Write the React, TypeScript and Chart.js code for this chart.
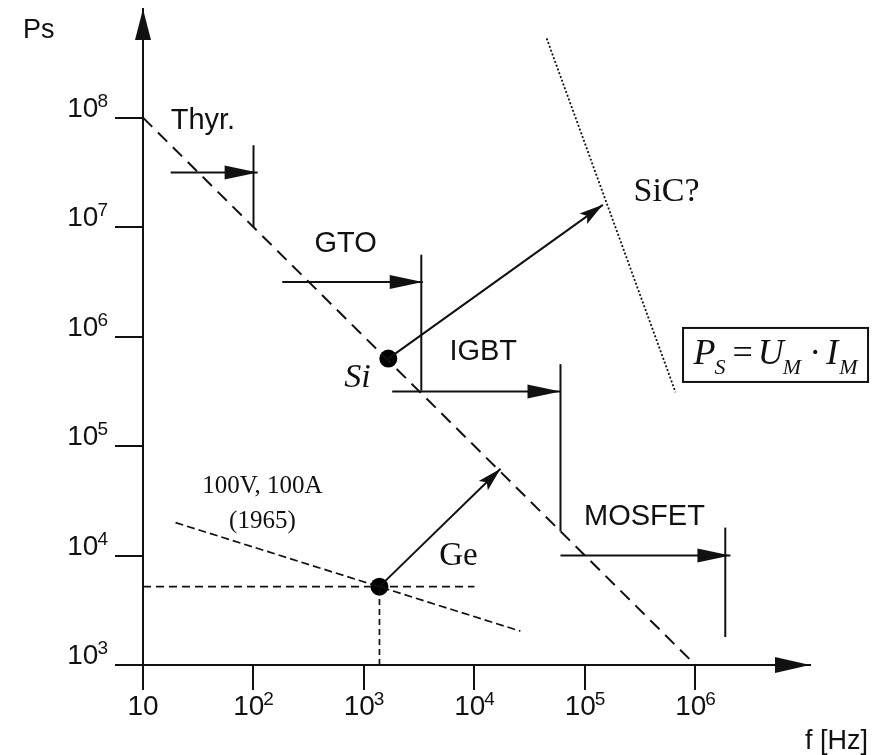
import React, { useEffect, useRef } from "react";
import { Chart, registerables } from "chart.js";

Chart.register(...registerables);

type P = [number, number];

// ---- axis ticks ----
const xTickValues = [10, 1e2, 1e3, 1e4, 1e5, 1e6];
const xTickLabels = ["10", "10^2", "10^3", "10^4", "10^5", "10^6"];
const yTickValues = [1e3, 1e4, 1e5, 1e6, 1e7, 1e8];
const yTickLabels = ["10^3", "10^4", "10^5", "10^6", "10^7", "10^8"];
const xRange: P = [10, 1.087e7];
const yRange: P = [1e3, 9.84e8];

// ---- lines (f [Hz], Ps) ----
const siliconLimit: P[] = [[10, 1e8], [1e6, 1e3]];
const thyristorRange: P[] = [[17.8, 3.16e7], [109, 3.16e7]];
const thyristorLimit: P[] = [[100, 1e7], [100, 5.6e7]];
const gtoRange: P[] = [[182, 3.16e6], [3.4e3, 3.16e6]];
const gtoLimit: P[] = [[3.3e3, 3.2e5], [3.3e3, 5.6e6]];
const igbtRange: P[] = [[1.8e3, 3.16e5], [6.0e4, 3.16e5]];
const igbtLimit: P[] = [[6.0e4, 1.66e4], [6.0e4, 5.6e5]];
const mosfetRange: P[] = [[6.0e4, 1.0e4], [2.07e6, 1.0e4]];
const mosfetLimit: P[] = [[1.86e6, 1.8e3], [1.86e6, 1.8e4]];
const siTrend: P[] = [[1.66e3, 6.3e5], [1.45e5, 1.6e7]];
const geTrend: P[] = [[1.38e3, 5.2e3], [1.72e4, 6.2e4]];
const geLevel: P[] = [[10, 5.2e3], [1.0e4, 5.2e3]];
const geFreq: P[] = [[1.38e3, 1e3], [1.38e3, 5.2e3]];
const line1965: P[] = [[19.7, 2.0e4], [2.6e4, 2.04e3]];
const sicLimit: P[] = [[4.5e4, 5.3e8], [6.6e5, 3.1e5]];
const materialPoints: P[] = [[1.66e3, 6.3e5], [1.38e3, 5.2e3]];

// ---- annotations (data anchored) ----
const SANS = '"Liberation Sans", Arial, sans-serif';
const SERIF = '"Liberation Serif", "Times New Roman", serif';
const labelTexts = ["Thyr.", "GTO", "IGBT", "MOSFET", "Si", "Ge", "SiC?", "100V, 100A", "(1965)"];
const labelX = [17.8, 681, 1.2e4, 3.45e5, 873, 7.16e3, 5.47e5, 120.5, 120.5];
const labelY = [9.4e7, 6.97e6, 7.24e5, 2.27e4, 4.2e5, 9.8e3, 2.07e7, 4.27e4, 2.05e4];
const labelFonts = [
  `29px ${SANS}`, `29px ${SANS}`, `29px ${SANS}`, `29px ${SANS}`,
  `italic 34px ${SERIF}`, `33px ${SERIF}`, `34px ${SERIF}`, `25px ${SERIF}`, `25px ${SERIF}`,
];
const labelAlign: CanvasTextAlign[] = ["left", "center", "center", "center", "center", "center", "center", "center", "center"];
const formulaAnchor: P = [5.3e6, 6.8e5];

const INK = "#111";

function seg(pts: P[], extra: any = {}) {
  return {
    data: pts.map(([x, y]) => ({ x, y })),
    showLine: true,
    pointRadius: 0,
    pointHoverRadius: 0,
    borderColor: INK,
    backgroundColor: INK,
    borderWidth: 2,
    fill: false,
    ...extra,
  };
}

function drawPow(ctx: CanvasRenderingContext2D, label: string, x: number, y: number, align: "center" | "right") {
  const [base, exp] = label.split("^");
  ctx.save();
  ctx.fillStyle = INK;
  ctx.textAlign = "left";
  ctx.textBaseline = "alphabetic";
  ctx.font = `28px ${SANS}`;
  const bw = ctx.measureText(base).width;
  ctx.font = `19px ${SANS}`;
  const ew = exp ? ctx.measureText(exp).width : 0;
  const total = bw + (exp ? ew - 1 : 0);
  const sx = align === "center" ? x - total / 2 : x - total;
  ctx.font = `28px ${SANS}`;
  ctx.fillText(base, sx, y);
  if (exp) {
    ctx.font = `19px ${SANS}`;
    ctx.fillText(exp, sx + bw - 1, y - 10);
  }
  ctx.restore();
}

const decorPlugin = {
  id: "decor",
  afterDatasetsDraw(chart: any) {
    const ctx: CanvasRenderingContext2D = chart.ctx;
    chart.data.datasets.forEach((ds: any, i: number) => {
      const head = ds.arrowHead;
      if (!head) return;
      const pts = chart.getDatasetMeta(i).data;
      const a = pts[pts.length - 2];
      const b = pts[pts.length - 1];
      const ang = Math.atan2(b.y - a.y, b.x - a.x);
      ctx.save();
      ctx.translate(b.x, b.y);
      ctx.rotate(ang);
      ctx.fillStyle = INK;
      ctx.beginPath();
      ctx.moveTo(0, 0);
      ctx.lineTo(-head.len, -head.half);
      ctx.lineTo(-head.len * head.notch, 0);
      ctx.lineTo(-head.len, head.half);
      ctx.closePath();
      ctx.fill();
      ctx.restore();
    });
  },
  afterDraw(chart: any) {
    const ctx: CanvasRenderingContext2D = chart.ctx;
    const { left, right, top, bottom } = chart.chartArea;
    const xs = chart.scales.x;
    const ys = chart.scales.y;

    // axis arrows
    ctx.save();
    ctx.fillStyle = INK;
    ctx.beginPath();
    ctx.moveTo(left, top);
    ctx.lineTo(left - 8, top + 31);
    ctx.lineTo(left + 8, top + 31);
    ctx.closePath();
    ctx.fill();
    ctx.beginPath();
    ctx.moveTo(right, bottom);
    ctx.lineTo(right - 35, bottom - 8);
    ctx.lineTo(right - 35, bottom + 8);
    ctx.closePath();
    ctx.fill();
    ctx.restore();

    // tick labels
    xTickValues.forEach((v, i) => drawPow(ctx, xTickLabels[i], xs.getPixelForValue(v), bottom + 50, "center"));
    yTickValues.forEach((v, i) => drawPow(ctx, yTickLabels[i], left - 35, ys.getPixelForValue(v) - 1, "right"));

    // axis titles
    ctx.save();
    ctx.fillStyle = INK;
    ctx.textBaseline = "alphabetic";
    ctx.textAlign = "left";
    ctx.font = `27px ${SANS}`;
    ctx.fillText("Ps", left - 120, top + 29);
    ctx.textAlign = "right";
    ctx.fillText("f [Hz]", right + 58, bottom + 84);
    ctx.restore();

    // annotations
    ctx.save();
    ctx.fillStyle = INK;
    ctx.textBaseline = "middle";
    labelTexts.forEach((t, i) => {
      ctx.font = labelFonts[i];
      ctx.textAlign = labelAlign[i];
      ctx.fillText(t, xs.getPixelForValue(labelX[i]), ys.getPixelForValue(labelY[i]));
    });
    ctx.restore();

    // formula box
    const cx = xs.getPixelForValue(formulaAnchor[0]);
    const cy = ys.getPixelForValue(formulaAnchor[1]);
    const bw = 185, bh = 54;
    ctx.save();
    ctx.strokeStyle = INK;
    ctx.lineWidth = 2;
    ctx.strokeRect(cx - bw / 2, cy - bh / 2, bw, bh);
    const pieces = [
      { t: "P", f: `italic 36px ${SERIF}`, gap: 0, dy: 0 },
      { t: "S", f: `italic 22px ${SERIF}`, gap: -1, dy: 10 },
      { t: "=", f: `36px ${SERIF}`, gap: 7, dy: 0 },
      { t: "U", f: `italic 36px ${SERIF}`, gap: 5, dy: 0 },
      { t: "M", f: `italic 22px ${SERIF}`, gap: -1, dy: 10 },
      { t: "·", f: `36px ${SERIF}`, gap: 8, dy: 0 },
      { t: "I", f: `italic 36px ${SERIF}`, gap: 5, dy: 0 },
      { t: "M", f: `italic 22px ${SERIF}`, gap: 1, dy: 10 },
    ];
    let total = 0;
    const widths = pieces.map((p) => {
      ctx.font = p.f;
      const w = ctx.measureText(p.t).width;
      total += w + p.gap;
      return w;
    });
    let px = cx - total / 2;
    const base = cy + 9;
    ctx.fillStyle = INK;
    ctx.textAlign = "left";
    ctx.textBaseline = "alphabetic";
    pieces.forEach((p, i) => {
      px += p.gap;
      ctx.font = p.f;
      ctx.fillText(p.t, px, base + p.dy);
      px += widths[i];
    });
    ctx.restore();
  },
};

const mainArrow = { len: 33, half: 7, notch: 1 };
const diagArrow = { len: 24, half: 6.5, notch: 0.8 };

export default function App() {
  const ref = useRef<HTMLCanvasElement>(null);
  useEffect(() => {
    const afterBuild = (vals: number[]) => (scale: any) => {
      scale.ticks = vals.map((value) => ({ value }));
    };
    const chart = new Chart(ref.current!, {
      type: "scatter",
      data: {
        datasets: [
          seg(siliconLimit, { borderDash: [13, 8] }),
          seg(line1965, { borderDash: [8, 4], borderWidth: 1.7 }),
          seg(geLevel, { borderDash: [8, 5], borderWidth: 1.7 }),
          seg(geFreq, { borderDash: [6, 4], borderWidth: 1.7 }),
          seg(sicLimit, { borderDash: [2, 2], borderWidth: 1.8 }),
          seg(thyristorRange, { arrowHead: mainArrow }),
          seg(thyristorLimit),
          seg(gtoRange, { arrowHead: mainArrow }),
          seg(gtoLimit),
          seg(igbtRange, { arrowHead: mainArrow }),
          seg(igbtLimit),
          seg(mosfetRange, { arrowHead: mainArrow }),
          seg(mosfetLimit),
          seg(siTrend, { arrowHead: diagArrow }),
          seg(geTrend, { arrowHead: diagArrow }),
          {
            data: materialPoints.map(([x, y]) => ({ x, y })),
            showLine: false,
            pointRadius: 9,
            pointHoverRadius: 9,
            pointBackgroundColor: "#000",
            pointBorderColor: "#000",
            pointBorderWidth: 0,
          },
        ] as any,
      },
      options: {
        animation: false,
        responsive: false,
        events: [],
        layout: { padding: { top: 7, right: 63, left: 0, bottom: 0 } },
        plugins: { legend: { display: false }, tooltip: { enabled: false } },
        scales: {
          x: {
            type: "logarithmic",
            min: xRange[0],
            max: xRange[1],
            bounds: "data",
            afterBuildTicks: afterBuild(xTickValues),
            afterFit: (s: any) => { s.height = 90; },
            ticks: { display: false },
            grid: { drawOnChartArea: false, drawTicks: true, tickLength: 25, color: INK, lineWidth: 2 },
            border: { display: true, color: INK, width: 2 },
          },
          y: {
            type: "logarithmic",
            min: yRange[0],
            max: yRange[1],
            bounds: "data",
            afterBuildTicks: afterBuild(yTickValues),
            afterFit: (s: any) => { s.width = 143; },
            ticks: { display: false },
            grid: { drawOnChartArea: false, drawTicks: true, tickLength: 28, color: INK, lineWidth: 2 },
            border: { display: true, color: INK, width: 2 },
          },
        },
      } as any,
      plugins: [decorPlugin],
    });
    return () => chart.destroy();
  }, []);
  return (
    <div style={{ position: "fixed", left: 0, top: 0, width: 873, height: 755, background: "#fff" }}>
      <canvas ref={ref} width={873} height={755} style={{ display: "block", width: 873, height: 755 }} />
    </div>
  );
}
